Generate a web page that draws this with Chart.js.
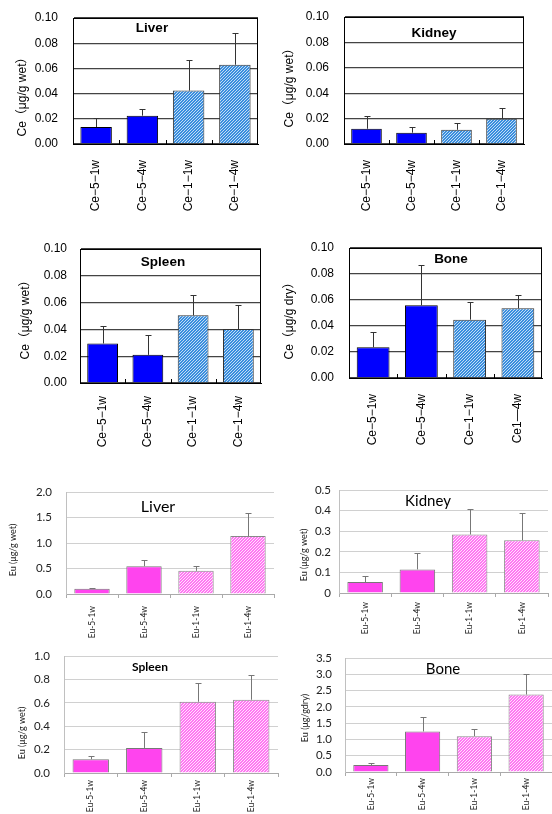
<!DOCTYPE html>
<html>
<head>
<meta charset="utf-8">
<script src="https://cdn.jsdelivr.net/npm/chart.js@4.4.0/dist/chart.umd.min.js"></script>
<style>
  body { margin: 0; background: #fff; }
  #wrap { position: relative; width: 552px; height: 814px; overflow: hidden; }
  #wrap canvas { position: absolute; }
</style>
</head>
<body>
<div id="wrap"></div>
<script>
// categorías
const ceCategories = ['Ce−5−1w', 'Ce−5−4w', 'Ce−1−1w', 'Ce−1−4w'];
const ceBoneCategories = ['Ce−5−1w', 'Ce−5−4w', 'Ce−1−1w', 'Ce1—4w'];
const euCategories = ['Eu-5-1w', 'Eu-5-4w', 'Eu-1-1w', 'Eu-1-4w'];

// valores medios y desviación (solo barra superior)
const ceLiverMean = [0.0135, 0.0225, 0.0424, 0.0629];
const ceLiverSd = [0.0069, 0.0056, 0.0239, 0.0249];
const ceKidneyMean = [0.0120, 0.0089, 0.0112, 0.0198];
const ceKidneySd = [0.0097, 0.0047, 0.0052, 0.0089];
const ceSpleenMean = [0.0295, 0.0210, 0.0505, 0.0403];
const ceSpleenSd = [0.0133, 0.0150, 0.0153, 0.0180];
const ceBoneMean = [0.0236, 0.0559, 0.0449, 0.0536];
const ceBoneSd = [0.0115, 0.0313, 0.0136, 0.0105];

const euLiverMean = [0.104, 0.545, 0.455, 1.136];
const euLiverSd = [0.019, 0.124, 0.103, 0.448];
const euKidneyMean = [0.053, 0.1145, 0.284, 0.256];
const euKidneySd = [0.029, 0.079, 0.122, 0.131];
const euSpleenMean = [0.117, 0.214, 0.609, 0.626];
const euSpleenSd = [0.032, 0.135, 0.160, 0.208];
const euBoneMean = [0.216, 1.246, 1.100, 2.378];
const euBoneSd = [0.052, 0.432, 0.230, 0.628];

// ejes Y: máximo y paso
const ceYMax = 0.10, ceYStep = 0.02;
const euLiverYMax = 2.0, euLiverYStep = 0.5;
const euKidneyYMax = 0.5, euKidneyYStep = 0.1;
const euSpleenYMax = 1.0, euSpleenYStep = 0.2;
const euBoneYMax = 3.5, euBoneYStep = 0.5;

const CE_FONT = "'Liberation Sans', Arial, 'Noto Sans CJK JP', sans-serif";
const EU_FONT = "Lato, 'Noto Sans', sans-serif";

// patrón rayado diagonal
function hatch(bg, fg, size, lw) {
    const c = document.createElement('canvas');
    c.width = c.height = size;
    const g = c.getContext('2d');
    g.fillStyle = bg;
    g.fillRect(0, 0, size, size);
    g.strokeStyle = fg;
    g.lineWidth = lw;
    g.beginPath();
    g.moveTo(0, size); g.lineTo(size, 0);
    g.moveTo(-size, size); g.lineTo(size, -size);
    g.moveTo(0, 2 * size); g.lineTo(2 * size, 0);
    g.stroke();
    return g.createPattern(c, 'repeat');
}

const ceBlue = '#0000ff';
const ceHatch = hatch('#3a8ede', '#ffffff', 3, 0.7);
const euPink = '#ff44ee';
const euHatch = hatch('#ff78f2', '#ffffff', 3, 0.8);

// plugin: barras de error, títulos, marco
const extras = {
    id: 'extras',
    afterDatasetsDraw(chart, args, o) {
        const { ctx, chartArea: a, scales: { x, y } } = chart;
        const meta = chart.getDatasetMeta(0);
        const vals = chart.data.datasets[0].data;
        ctx.save();
        ctx.strokeStyle = o.errColor;
        ctx.lineWidth = 1;
        meta.data.forEach((bar, i) => {
            const top = Math.round(y.getPixelForValue(vals[i] + o.sd[i])) + 0.5;
            const cx = Math.round(bar.x) + 0.5;
            ctx.beginPath();
            ctx.moveTo(cx, bar.y);
            ctx.lineTo(cx, top);
            ctx.moveTo(cx - o.cap, top);
            ctx.lineTo(cx + o.cap, top);
            ctx.stroke();
        });
        if (o.box) {
            ctx.strokeStyle = '#000';
            ctx.lineWidth = 1;
            ctx.strokeRect(Math.round(a.left) + 0.5, Math.round(a.top) + 0.5,
                Math.round(a.width) - 1, Math.round(a.height));
            // marcas entre categorías (hacia dentro)
            const step = (a.right - a.left) / vals.length;
            ctx.beginPath();
            for (let i = 1; i < vals.length; i++) {
                const px = Math.round(a.left + step * i) + 0.5;
                ctx.moveTo(px, a.bottom);
                ctx.lineTo(px, a.bottom - 4);
            }
            ctx.stroke();
        }
        ctx.fillStyle = '#000';
        ctx.textAlign = 'center';
        ctx.textBaseline = 'middle';
        ctx.font = o.titleFont;
        ctx.fillText(o.title, o.titleX, o.titleY);
        ctx.translate(o.yTitleX, o.yTitleY);
        ctx.rotate(-Math.PI / 2);
        ctx.font = o.yTitleFont;
        ctx.fillStyle = o.yTitleColor;
        ctx.fillText(o.yTitle, 0, 0);
        ctx.restore();
    }
};

function makePanel(p) {
    const canvas = document.createElement('canvas');
    canvas.width = p.w;
    canvas.height = p.h;
    canvas.style.left = p.left + 'px';
    canvas.style.top = p.top + 'px';
    canvas.style.width = p.w + 'px';
    canvas.style.height = p.h + 'px';
    document.getElementById('wrap').appendChild(canvas);

    const isCe = p.kind === 'ce';
    const a = p.area;
    return new Chart(canvas.getContext('2d'), {
        type: 'bar',
        data: {
            labels: p.labels,
            datasets: [{
                data: p.mean,
                backgroundColor: isCe ? [ceBlue, ceBlue, ceHatch, ceHatch] : [euPink, euPink, euHatch, euHatch],
                borderColor: isCe ? ['#000', '#000', '#333', '#333'] : ['#777', '#777', '#888', '#888'],
                borderWidth: 1,
                barPercentage: 0.68,
                categoryPercentage: 1.0
            }]
        },
        options: {
            responsive: false,
            animation: false,
            devicePixelRatio: 1,
            layout: { autoPadding: false, padding: { left: 0, top: a[1], right: p.w - a[2], bottom: 0 } },
            plugins: {
                legend: { display: false },
                tooltip: { enabled: false },
                extras: {
                    sd: p.sd,
                    cap: 3,
                    errColor: isCe ? '#333' : '#777',
                    box: isCe,
                    title: p.title,
                    titleFont: p.titleFont,
                    titleX: p.titleX,
                    titleY: p.titleY,
                    yTitle: p.yTitle,
                    yTitleFont: p.yTitleFont,
                    yTitleColor: isCe ? '#000' : '#222',
                    yTitleX: p.yTitleX,
                    yTitleY: p.yTitleY
                }
            },
            scales: {
                x: {
                    afterFit: s => { s.height = p.h - a[3]; s.paddingLeft = 0; s.paddingRight = 0; },
                    grid: isCe
                        ? { display: false }
                        : { drawOnChartArea: false, drawTicks: true, tickLength: 4, color: '#aaa' },
                    border: { display: true, color: isCe ? '#000' : '#aaa' },
                    ticks: {
                        minRotation: 90,
                        maxRotation: 90,
                        padding: p.xPad,
                        color: isCe ? '#000' : '#222',
                        font: isCe ? { family: CE_FONT, size: 12 } : { family: EU_FONT, size: 8.5 }
                    }
                },
                y: {
                    min: 0,
                    max: p.yMax,
                    afterFit: s => { s.width = a[0]; s.paddingTop = 0; s.paddingBottom = 0; },
                    grid: { color: isCe ? '#444' : '#d0d0d0', lineWidth: isCe ? 1.3 : 1, drawTicks: false },
                    border: { display: true, color: isCe ? '#000' : '#c0c0c0' },
                    ticks: {
                        stepSize: p.yStep,
                        autoSkip: false,
                        padding: p.yPad,
                        color: isCe ? '#000' : '#222',
                        font: isCe ? { family: CE_FONT, size: 12 } : { family: EU_FONT, size: 11.5 },
                        callback: p.tickFmt
                    }
                }
            }
        },
        plugins: [extras]
    });
}

const ceFmt = v => v.toFixed(2);
const euFmt = v => v.toFixed(1);
const euKidneyFmt = v => (v === 0 ? '0' : v.toFixed(1));

const ceTitleFont = 'bold 13.5px ' + CE_FONT;
const ceYTitleFont = '12px ' + CE_FONT;
const euYTitleFont = '9px ' + EU_FONT;

window.addEventListener('load', () => {
    makePanel({ kind: 'ce', left: 0, top: 0, w: 276, h: 220, area: [73, 18, 258, 144],
        labels: ceCategories, mean: ceLiverMean, sd: ceLiverSd, yMax: ceYMax, yStep: ceYStep,
        tickFmt: ceFmt, yPad: 15, xPad: 8,
        title: 'Liver', titleFont: ceTitleFont, titleX: 152, titleY: 28,
        yTitle: 'Ce（μg/g wet）', yTitleFont: ceYTitleFont, yTitleX: 23, yTitleY: 94 });
    makePanel({ kind: 'ce', left: 276, top: 0, w: 276, h: 220, area: [68, 17, 248, 144],
        labels: ceCategories, mean: ceKidneyMean, sd: ceKidneySd, yMax: ceYMax, yStep: ceYStep,
        tickFmt: ceFmt, yPad: 15, xPad: 8,
        title: 'Kidney', titleFont: ceTitleFont, titleX: 158, titleY: 33,
        yTitle: 'Ce（μg/g wet）', yTitleFont: ceYTitleFont, yTitleX: 14, yTitleY: 85 });
    makePanel({ kind: 'ce', left: 0, top: 230, w: 276, h: 220, area: [80, 19, 261, 153],
        labels: ceCategories, mean: ceSpleenMean, sd: ceSpleenSd, yMax: ceYMax, yStep: ceYStep,
        tickFmt: ceFmt, yPad: 13, xPad: 5,
        title: 'Spleen', titleFont: ceTitleFont, titleX: 163, titleY: 32,
        yTitle: 'Ce（μg/g wet）', yTitleFont: ceYTitleFont, yTitleX: 26, yTitleY: 87 });
    makePanel({ kind: 'ce', left: 276, top: 230, w: 276, h: 220, area: [73, 18, 266, 148],
        labels: ceBoneCategories, mean: ceBoneMean, sd: ceBoneSd, yMax: ceYMax, yStep: ceYStep,
        tickFmt: ceFmt, yPad: 15, xPad: 8,
        title: 'Bone', titleFont: ceTitleFont, titleX: 175, titleY: 29,
        yTitle: 'Ce（μg/g dry）', yTitleFont: ceYTitleFont, yTitleX: 14, yTitleY: 88 });

    makePanel({ kind: 'eu', left: 0, top: 475, w: 276, h: 170, area: [66, 17, 274, 119],
        labels: euCategories, mean: euLiverMean, sd: euLiverSd, yMax: euLiverYMax, yStep: euLiverYStep,
        tickFmt: euFmt, yPad: 14, xPad: 8,
        title: 'Liver', titleFont: '16px ' + EU_FONT, titleX: 158, titleY: 32,
        yTitle: 'Eu (μg/g wet)', yTitleFont: euYTitleFont, yTitleX: 13, yTitleY: 75 });
    makePanel({ kind: 'eu', left: 276, top: 475, w: 276, h: 170, area: [63, 15, 272, 118],
        labels: euCategories, mean: euKidneyMean, sd: euKidneySd, yMax: euKidneyYMax, yStep: euKidneyYStep,
        tickFmt: euKidneyFmt, yPad: 8, xPad: 5,
        title: 'Kidney', titleFont: '15px ' + EU_FONT, titleX: 152, titleY: 26,
        yTitle: 'Eu (μg/g wet)', yTitleFont: euYTitleFont, yTitleX: 28, yTitleY: 80 });
    makePanel({ kind: 'eu', left: 0, top: 645, w: 282, h: 169, area: [64, 11, 278, 128],
        labels: euCategories, mean: euSpleenMean, sd: euSpleenSd, yMax: euSpleenYMax, yStep: euSpleenYStep,
        tickFmt: euFmt, yPad: 14, xPad: 3,
        title: 'Spleen', titleFont: 'bold 12px ' + EU_FONT, titleX: 150, titleY: 22,
        yTitle: 'Eu (μg/g wet)', yTitleFont: euYTitleFont, yTitleX: 22, yTitleY: 88 });
    makePanel({ kind: 'eu', left: 276, top: 645, w: 276, h: 169, area: [69, 13, 276, 127],
        labels: euCategories, mean: euBoneMean, sd: euBoneSd, yMax: euBoneYMax, yStep: euBoneYStep,
        tickFmt: euFmt, yPad: 13, xPad: 2,
        title: 'Bone', titleFont: '15px ' + EU_FONT, titleX: 167, titleY: 24,
        yTitle: 'Eu (μg/gdry)', yTitleFont: euYTitleFont, yTitleX: 29, yTitleY: 73 });
});
</script>
</body>
</html>
